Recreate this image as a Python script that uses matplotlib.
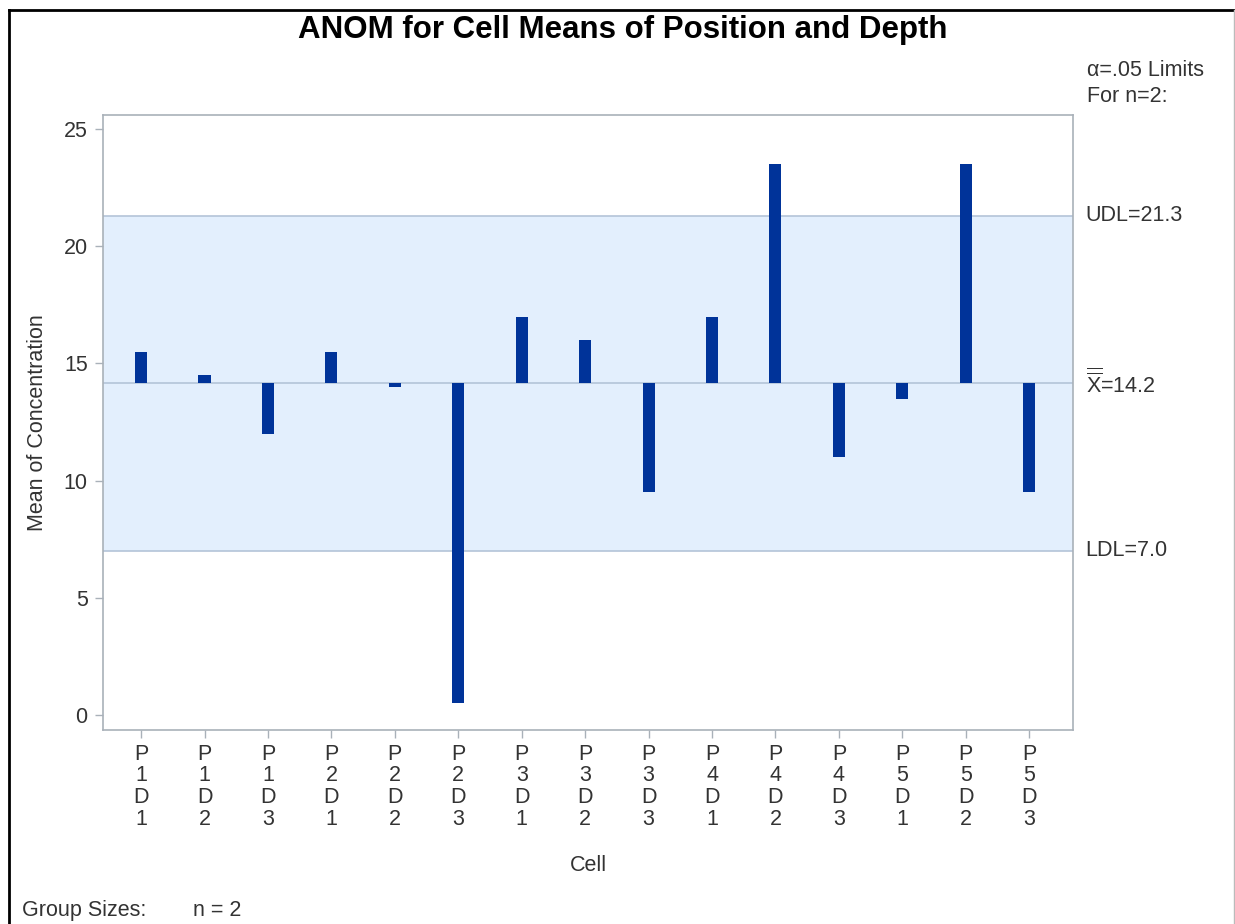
import numpy as np
import matplotlib
matplotlib.use("Agg")
import matplotlib.pyplot as plt
from matplotlib.lines import Line2D

plt.rcParams['font.family'] = ['Liberation Sans', 'DejaVu Sans']
plt.rcParams['mathtext.fontset'] = 'custom'
plt.rcParams['mathtext.rm'] = 'Liberation Sans'

# cell labels and cell means
cells = ["P1D1", "P1D2", "P1D3", "P2D1", "P2D2", "P2D3", "P3D1", "P3D2",
         "P3D3", "P4D1", "P4D2", "P4D3", "P5D1", "P5D2", "P5D3"]
means = [15.5, 14.5, 12.0, 15.5, 14.0, 0.5, 17.0, 16.0,
         9.5, 17.0, 23.5, 11.0, 13.5, 23.5, 9.5]
ldl = 7.0
udl = 21.3
center = np.mean(means)
y_ticks = [0, 5, 10, 15, 20, 25]

bar_color = "#003399"
band_color = "#E3EFFD"
limit_color = "#B4C4D8"
spine_color = "#A9B1B9"
text_color = "#333333"
fs = 15.5

fig = plt.figure(figsize=(12.35, 9.24), dpi=100)
ax = fig.add_axes([0.0834, 0.2100, 0.7854, 0.6655])

x = np.arange(1, len(cells) + 1)
ax.set_xlim(0.4, 15.69)
ax.set_ylim(-0.64, 25.6)

ax.axhspan(ldl, udl, color=band_color, zorder=0, lw=0)
for v in (ldl, center, udl):
    ax.axhline(v, color=limit_color, lw=1.2, zorder=1)

vals = np.array(means)
ax.bar(x, vals - center, bottom=center, width=0.19, color=bar_color,
       zorder=3, lw=0)

for s in ax.spines.values():
    s.set_color(spine_color)
    s.set_linewidth(1.2)

ax.set_yticks(y_ticks)
ax.set_xticks(x)
ax.set_xticklabels(["\n".join(c) for c in cells], linespacing=1.04)
ax.tick_params(axis="both", direction="out", color=spine_color, length=6,
               width=1, labelsize=fs, labelcolor=text_color)
ax.tick_params(axis="x", pad=4)
ax.tick_params(axis="y", pad=5)

ax.set_ylabel("Mean of Concentration", fontsize=fs, color=text_color, va="center")
ax.yaxis.set_label_coords(-0.068, 0.5)
ax.set_xlabel("Cell", fontsize=fs, color=text_color, va="center")
ax.xaxis.set_label_coords(0.5, -0.221)

fig.text(0.504, 0.968, "ANOM for Cell Means of Position and Depth",
         ha="center", va="center", fontsize=22.5, fontweight="bold")

tr = ax.get_yaxis_transform()
fig.text(0.880, 1 - 71 / 924, "α=.05 Limits", fontsize=fs, color=text_color,
         va="center", ha="left")
fig.text(0.880, 1 - 96 / 924, "For n=2:", fontsize=fs, color=text_color,
         va="center", ha="left")
ax.text(1.013, udl, "UDL=%.1f" % udl, transform=tr, fontsize=fs,
        color=text_color, va="center", ha="left", clip_on=False)
ax.text(1.013, center, r"$\overline{\overline{\mathrm{X}}}$=%.1f" % center,
        transform=tr, fontsize=fs, color=text_color, va="center", ha="left",
        clip_on=False)
ax.text(1.013, ldl, "LDL=%.1f" % ldl, transform=tr, fontsize=fs,
        color=text_color, va="center", ha="left", clip_on=False)

fig.text(0.018, 1 - 916 / 924, "Group Sizes:", fontsize=fs,
         color=text_color, va="baseline", ha="left")
fig.text(193 / 1235, 1 - 916 / 924, "n = 2", fontsize=fs,
         color=text_color, va="baseline", ha="left")

# outer frame of the graph area
fig.add_artist(Line2D([0.0073, 0.0073], [0.0, 0.989], color="black", lw=2,
                      transform=fig.transFigure))
fig.add_artist(Line2D([0.0073, 0.999], [0.989, 0.989], color="black", lw=2,
                      transform=fig.transFigure))
fig.add_artist(Line2D([0.999, 0.999], [0.0, 0.989], color="#BBBBBB", lw=1,
                      transform=fig.transFigure))

fig.savefig("out.png", dpi=100)
